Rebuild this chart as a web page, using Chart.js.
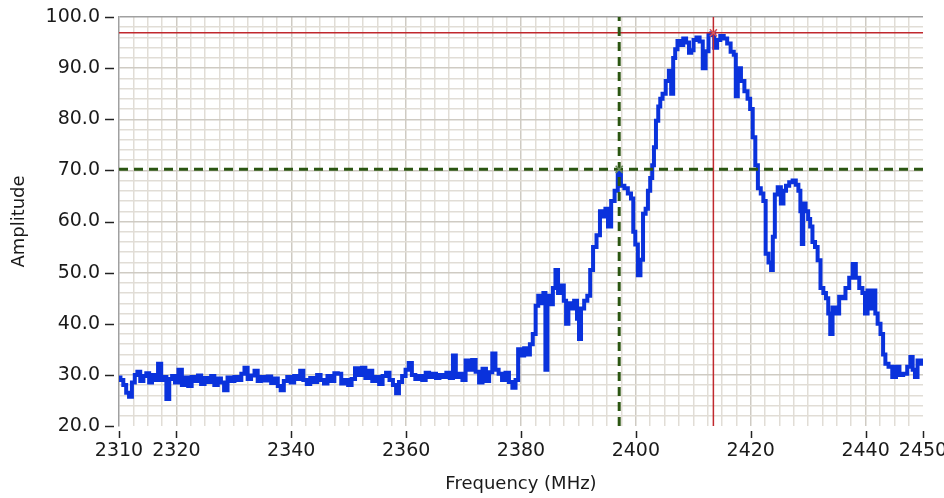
<!DOCTYPE html>
<html>
<head>
<meta charset="utf-8">
<script src="https://cdn.jsdelivr.net/npm/chart.js@4"></script>
<style>
html, body { margin: 0; padding: 0; background: #ffffff; }
#wrap { width: 944px; height: 498px; }
</style>
</head>
<body>
<div id="wrap"><canvas id="spectrum_chart" width="944" height="498"></canvas></div>
<script>
// spectrum trace (MHz, amplitude)
const frequency_mhz = [
    2310.0, 2310.5, 2311.0, 2311.5, 2312.0, 2312.5, 2313.0, 2313.4, 2314.0, 2314.5,
    2315.0, 2315.5, 2316.0, 2316.5, 2317.1, 2317.6, 2318.0, 2318.5, 2319.0, 2319.5,
    2320.0, 2320.7, 2321.2, 2321.8, 2322.3, 2323.0, 2323.5, 2324.0, 2324.6, 2325.2,
    2325.8, 2326.3, 2326.9, 2327.5, 2328.0, 2328.6, 2329.2, 2329.8, 2330.4, 2331.0,
    2331.6, 2332.1, 2332.7, 2333.3, 2333.9, 2334.4, 2335.0, 2335.6, 2336.2, 2336.8,
    2337.4, 2337.9, 2338.4, 2339.0, 2339.6, 2340.2, 2340.8, 2341.3, 2341.8, 2342.4,
    2343.0, 2343.6, 2344.2, 2344.8, 2345.4, 2346.0, 2346.6, 2347.2, 2347.8, 2348.4,
    2349.0, 2349.6, 2350.2, 2350.8, 2351.4, 2352.0, 2352.6, 2353.2, 2353.8, 2354.4,
    2355.0, 2355.6, 2356.2, 2356.8, 2357.4, 2358.0, 2358.5, 2359.0, 2359.6, 2360.2,
    2360.7, 2361.3, 2361.9, 2362.5, 2363.1, 2363.7, 2364.3, 2364.9, 2365.5, 2366.1,
    2366.7, 2367.3, 2367.9, 2368.4, 2368.9, 2369.5, 2370.1, 2370.6, 2371.2, 2371.8,
    2372.4, 2373.0, 2373.6, 2374.2, 2374.7, 2375.3, 2375.8, 2376.4, 2377.0, 2377.6,
    2378.2, 2378.8, 2379.3, 2379.7, 2380.3, 2380.8, 2381.3, 2381.8, 2382.3, 2382.8,
    2383.2, 2383.7, 2384.1, 2384.4, 2384.8, 2385.3, 2385.8, 2386.2, 2386.7, 2387.2,
    2387.7, 2388.0, 2388.5, 2389.0, 2389.5, 2390.0, 2390.2, 2390.7, 2391.3, 2391.8,
    2392.3, 2392.8, 2393.5, 2394.0, 2394.5, 2394.9, 2395.4, 2396.0, 2396.6, 2397.1,
    2397.7, 2398.3, 2398.9, 2399.4, 2399.7, 2400.1, 2400.6, 2401.0, 2401.5, 2401.9,
    2402.3, 2402.7, 2403.0, 2403.3, 2403.7, 2404.1, 2404.4, 2404.9, 2405.5, 2406.0,
    2406.3, 2406.7, 2407.0, 2407.5, 2408.0, 2408.5, 2409.0, 2409.5, 2409.8, 2410.3,
    2410.8, 2411.4, 2411.9, 2412.4, 2412.9, 2413.4, 2413.9, 2414.4, 2415.0, 2415.6,
    2416.2, 2416.8, 2417.3, 2417.5, 2418.0, 2418.6, 2419.2, 2419.7, 2420.1, 2420.6,
    2421.0, 2421.5, 2422.0, 2422.4, 2422.8, 2423.4, 2423.7, 2424.0, 2424.4, 2425.0,
    2425.5, 2425.9, 2426.4, 2427.0, 2427.6, 2428.1, 2428.5, 2428.8, 2429.0, 2429.3,
    2429.8, 2430.2, 2430.5, 2431.0, 2431.4, 2431.9, 2432.4, 2432.9, 2433.3, 2433.7,
    2434.0, 2434.5, 2435.1, 2435.7, 2436.2, 2436.8, 2437.5, 2438.0, 2438.6, 2439.2,
    2439.7, 2440.1, 2440.6, 2441.1, 2441.5, 2441.9, 2442.3, 2442.9, 2443.2, 2443.7,
    2444.3, 2445.0, 2445.6, 2446.2, 2446.9, 2447.6, 2448.0, 2448.4, 2448.8, 2449.3,
    2450.0
];
const amplitude = [
    29.5, 29.0, 28.0, 26.5, 25.7, 28.5, 30.0, 30.6, 28.8, 29.8,
    30.3, 28.5, 30.0, 29.0, 32.2, 29.0, 29.6, 25.3, 29.2, 29.8,
    28.5, 31.0, 28.0, 29.5, 27.8, 29.6, 28.8, 29.9, 28.2, 29.4,
    28.6, 29.8, 28.0, 29.3, 28.5, 27.0, 29.5, 28.8, 29.6, 29.0,
    30.2, 31.4, 29.2, 29.9, 30.8, 28.8, 29.6, 28.9, 29.7, 28.4,
    29.3, 27.8, 27.0, 28.8, 29.6, 28.5, 29.8, 29.2, 30.8, 29.0,
    28.2, 29.4, 28.6, 30.0, 29.0, 28.3, 29.8, 28.8, 30.3, 30.2,
    28.3, 29.0, 28.0, 29.2, 31.3, 30.0, 31.4, 29.4, 30.8, 28.8,
    29.6, 28.2, 29.8, 30.4, 29.0, 28.0, 26.4, 28.6, 29.8, 31.0,
    32.3, 30.0, 29.2, 29.8, 29.0, 30.4, 29.6, 30.2, 29.4, 30.0,
    29.6, 30.4, 29.4, 33.8, 29.6, 30.2, 29.0, 32.8, 31.0, 32.9,
    30.6, 28.5, 31.2, 28.8, 30.5, 34.2, 31.0, 30.2, 29.0, 30.4,
    28.6, 27.5, 29.0, 35.0, 33.8, 35.2, 34.0, 36.0, 38.0, 43.5,
    45.5, 44.0, 46.0, 31.0, 45.5, 43.8, 47.0, 50.5, 46.0, 47.5,
    44.5, 40.0, 44.0, 43.0, 44.5, 41.0, 37.0, 43.0, 44.5, 45.5,
    50.5, 55.0, 57.3, 62.0, 61.0, 62.5, 59.0, 64.0, 66.0, 69.5,
    67.0, 66.5, 65.5, 64.5, 58.0, 55.5, 49.5, 52.5, 61.5, 62.5,
    66.0, 68.5, 71.0, 74.5, 79.7, 82.5, 84.0, 85.0, 87.5, 89.5,
    85.0, 92.0, 93.7, 95.3, 94.5, 95.8, 95.0, 93.0, 93.5, 95.5,
    96.0, 95.2, 90.0, 93.3, 96.5, 96.8, 94.0, 95.5, 96.3, 95.8,
    94.8, 93.2, 92.6, 84.5, 90.0, 87.5, 85.5, 84.0, 82.0, 76.5,
    71.0, 66.5, 65.5, 64.0, 53.7, 52.0, 50.5, 57.0, 65.3, 66.7,
    63.5, 66.0, 67.0, 67.7, 68.0, 67.2, 66.0, 62.0, 55.6, 63.5,
    62.0, 60.5, 59.0, 56.0, 55.0, 52.4, 47.0, 46.0, 45.0, 42.0,
    38.0, 43.2, 42.0, 45.3, 45.0, 47.0, 49.0, 51.7, 49.0, 47.0,
    46.0, 42.0, 46.5, 43.0, 46.5, 42.0, 40.0, 38.0, 34.0, 32.2,
    31.6, 29.6, 31.6, 30.0, 30.2, 31.6, 33.5, 31.0, 29.6, 32.8,
    32.2
];

const x_tick_labels = [2310, 2320, 2340, 2360, 2380, 2400, 2420, 2440, 2450];
const y_tick_labels = [20, 30, 40, 50, 60, 70, 80, 90, 100];

// cursor positions [frequency, amplitude]
const cursor_green = [2397.1, 70.2];
const cursor_red = [2413.5, 96.9];

const x_min = 2310, x_max = 2450, y_min = 20, y_max = 100;

Chart.defaults.font.family = "DejaVu Sans";
Chart.defaults.color = "#1a1a1a";

const is_x_label = v => x_tick_labels.some(t => Math.abs(t - v) < 0.01);
const is_y_label = v => y_tick_labels.some(t => Math.abs(t - v) < 0.01);

// little tick marks sitting a few pixels off the plot, like the original
const tick_marks = {
    id: "tick_marks",
    afterDraw(chart)
    {
        const ctx = chart.ctx;
        const area = chart.chartArea;
        const xs = chart.scales.x;
        const ys = chart.scales.y;
        ctx.save();
        ctx.strokeStyle = "#222222";
        ctx.lineWidth = 1.5;
        x_tick_labels.forEach(v =>
        {
            const px = Math.round(xs.getPixelForValue(v)) + 0.5;
            ctx.beginPath();
            ctx.moveTo(px, area.bottom + 5);
            ctx.lineTo(px, area.bottom + 12);
            ctx.stroke();
        });
        y_tick_labels.forEach(v =>
        {
            const py = Math.round(ys.getPixelForValue(v)) + 0.5;
            ctx.beginPath();
            ctx.moveTo(area.left - 14, py);
            ctx.lineTo(area.left - 5, py);
            ctx.stroke();
        });
        ctx.restore();
    }
};

const spectrum_chart = new Chart("spectrum_chart",
{
    type: "line",
    data:
    {
        datasets:
        [
            {
                label: "green cursor h",
                data: [{x: x_min, y: cursor_green[1]}, {x: x_max, y: cursor_green[1]}],
                borderColor: "#2b5612",
                borderWidth: 3,
                borderDash: [9, 6],
                pointRadius: 0,
                order: 1
            },
            {
                label: "green cursor v",
                data: [{x: cursor_green[0], y: y_min}, {x: cursor_green[0], y: y_max}],
                borderColor: "#2b5612",
                borderWidth: 3,
                borderDash: [9, 6],
                pointRadius: 0,
                order: 1
            },
            {
                label: "red cursor h",
                data: [{x: x_min, y: cursor_red[1]}, {x: x_max, y: cursor_red[1]}],
                borderColor: "#c0282d",
                borderWidth: 1.5,
                pointRadius: 0,
                order: 1
            },
            {
                label: "red cursor v",
                data: [{x: cursor_red[0], y: y_min}, {x: cursor_red[0], y: y_max}],
                borderColor: "#c0282d",
                borderWidth: 1.5,
                pointRadius: 0,
                order: 1
            },
            {
                label: "markers",
                data: [{x: cursor_green[0], y: cursor_green[1]}, {x: cursor_red[0], y: cursor_red[1]}],
                showLine: false,
                pointStyle: "crossRot",
                pointRadius: 5,
                pointBorderWidth: 1.5,
                pointBorderColor: ["#6b8a5a", "#d9545a"],
                order: 0
            },
            {
                label: "Amplitude",
                data: frequency_mhz.map((f, i) => ({x: f, y: amplitude[i]})),
                borderColor: "#0a32dc",
                borderWidth: 4,
                pointRadius: 0,
                stepped: "middle",
                order: 3
            }
        ]
    },
    options:
    {
        responsive: false,
        animation: false,
        devicePixelRatio: 1,
        layout:
        {
            padding: {top: 17, right: 21, left: 0, bottom: 0}
        },
        plugins:
        {
            legend: {display: false},
            tooltip: {enabled: false}
        },
        scales:
        {
            x:
            {
                type: "linear",
                min: x_min,
                max: x_max,
                afterFit(scale)
                {
                    scale.height = 72;
                    scale.paddingLeft = 0;
                    scale.paddingRight = 0;
                },
                ticks:
                {
                    stepSize: 2.5,
                    autoSkip: false,
                    maxRotation: 0,
                    padding: 14,
                    font: {size: 19},
                    callback: v => is_x_label(v) ? String(v) : ""
                },
                grid:
                {
                    drawTicks: false,
                    lineWidth: 1.5,
                    color: ctx =>
                    {
                        const v = ctx.tick ? ctx.tick.value : null;
                        if (v === null || Math.abs(v - x_min) < 0.01 || Math.abs(v - x_max) < 0.01) return "rgba(0,0,0,0)";
                        return is_x_label(v) ? "#cfcbc3" : "#e1ddd6";
                    }
                },
                border: {display: false},
                title:
                {
                    display: true,
                    text: "Frequency (MHz)",
                    font: {size: 18},
                    color: "#1a1a1a",
                    padding: {top: 0, bottom: 3}
                }
            },
            y:
            {
                min: y_min,
                max: y_max,
                afterFit(scale)
                {
                    scale.width = 119;
                    scale.paddingTop = 0;
                },
                ticks:
                {
                    stepSize: 2,
                    autoSkip: false,
                    padding: 19,
                    font: {size: 19},
                    callback: v => is_y_label(v) ? v.toFixed(1) : ""
                },
                grid:
                {
                    drawTicks: false,
                    lineWidth: 1.5,
                    color: ctx =>
                    {
                        const v = ctx.tick ? ctx.tick.value : null;
                        if (v === null || Math.abs(v - y_min) < 0.01) return "rgba(0,0,0,0)";
                        if (Math.abs(v - y_max) < 0.01) return "#a0a0a0";
                        return is_y_label(v) ? "#cfcbc3" : "#e1ddd6";
                    }
                },
                border: {display: true, color: "#a0a0a0", width: 1.5},
                title:
                {
                    display: true,
                    text: "Amplitude",
                    font: {size: 18},
                    color: "#1a1a1a",
                    padding: {top: 9, bottom: 0}
                }
            }
        }
    },
    plugins: [tick_marks]
});
</script>
</body>
</html>
